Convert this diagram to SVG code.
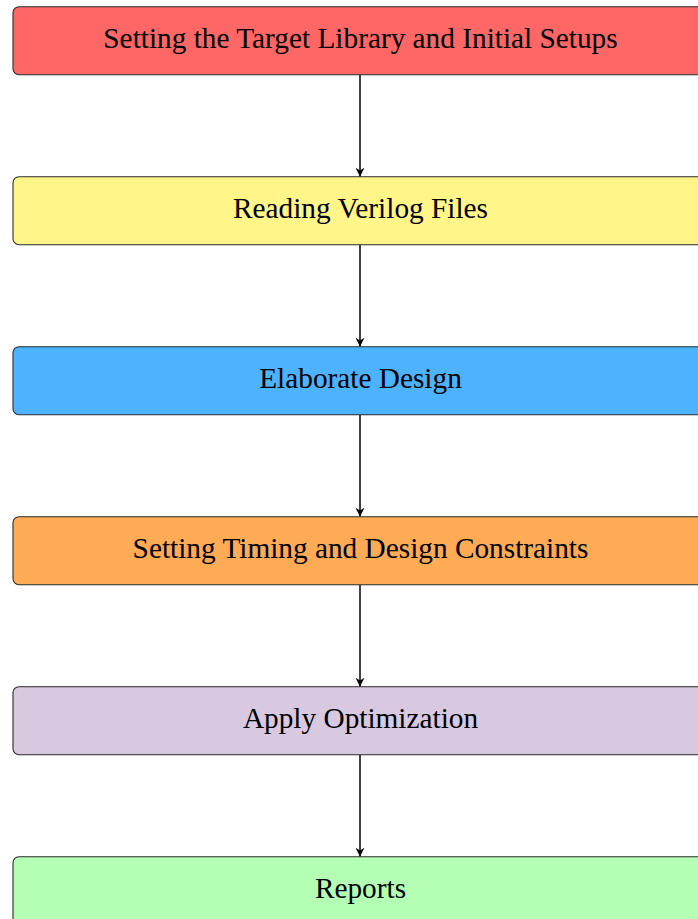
<svg xmlns="http://www.w3.org/2000/svg" width="698" height="919" viewBox="0 0 698 919">
  <style>
    .box { stroke: #2b2b2b; stroke-width: 1.1; }
    .label { font-family: "Liberation Serif", "Times New Roman", serif; font-size: 29.3px; fill: #000; text-anchor: middle; }
    .edge { stroke: #000; stroke-width: 1.5; fill: none; marker-end: url(#head); }
  </style>
  <defs>
    <marker id="head" viewBox="0 0 10 10" refX="10" refY="5" markerWidth="9" markerHeight="9" markerUnits="userSpaceOnUse" orient="auto">
      <path d="M0,0 L10,5 L0,10 L3,5 Z" fill="#000"/>
    </marker>
  </defs>
  <rect width="698" height="919" fill="#fff"/>

  <g id="edges">
    <line class="edge" x1="360" y1="74.7" x2="360" y2="176.7"/>
    <line class="edge" x1="360" y1="244.7" x2="360" y2="346.7"/>
    <line class="edge" x1="360" y1="414.7" x2="360" y2="516.7"/>
    <line class="edge" x1="360" y1="584.7" x2="360" y2="686.7"/>
    <line class="edge" x1="360" y1="754.7" x2="360" y2="856.7"/>
  </g>

  <g id="n1">
    <rect class="box" x="13" y="6.7" width="694" height="68" rx="6" fill="#FF6666"/>
    <text class="label" x="360.5" y="47.5">Setting the Target Library and Initial Setups</text>
  </g>
  <g id="n2">
    <rect class="box" x="13" y="176.7" width="694" height="68" rx="6" fill="#FFF588"/>
    <text class="label" x="360.5" y="217.5">Reading Verilog Files</text>
  </g>
  <g id="n3">
    <rect class="box" x="13" y="346.7" width="694" height="68" rx="6" fill="#4DB3FF"/>
    <text class="label" x="360.5" y="387.5">Elaborate Design</text>
  </g>
  <g id="n4">
    <rect class="box" x="13" y="516.7" width="694" height="68" rx="6" fill="#FFAA55"/>
    <text class="label" x="360.5" y="557.5">Setting Timing and Design Constraints</text>
  </g>
  <g id="n5">
    <rect class="box" x="13" y="686.7" width="694" height="68" rx="6" fill="#D8C8E0"/>
    <text class="label" x="360.5" y="727.5">Apply Optimization</text>
  </g>
  <g id="n6">
    <rect class="box" x="13" y="856.7" width="694" height="68" rx="6" fill="#B3FFB3"/>
    <text class="label" x="360.5" y="897.5">Reports</text>
  </g>
</svg>
